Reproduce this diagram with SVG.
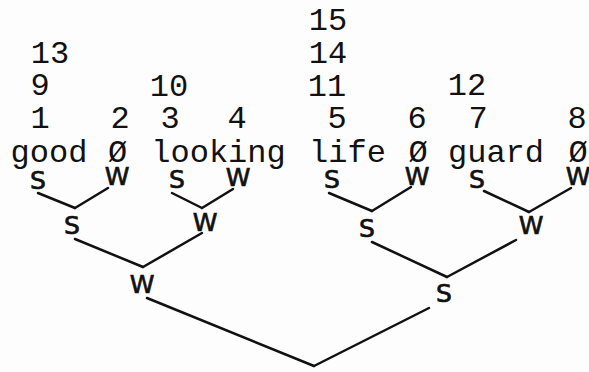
<svg xmlns="http://www.w3.org/2000/svg" width="589" height="372" viewBox="0 0 589 372">
<style>
.m{font-family:"Courier New","Liberation Mono",monospace;font-size:32px;fill:#111;text-anchor:middle}
.h{font-family:"DejaVu Sans","Noto Sans",sans-serif;font-size:25px;fill:#111;stroke:#111;stroke-width:0.7;text-anchor:middle}
.c line{stroke:#111;stroke-width:2.5;stroke-linecap:round}
</style>
<rect width="589" height="372" fill="#fdfdfd"/>
<g id="numbers">
<text class="m" x="50" y="63">13</text>
<text class="m" x="40" y="95">9</text>
<text class="m" x="40" y="128">1</text>
<text class="m" x="120" y="128">2</text>
<text class="m" x="169" y="96">10</text>
<text class="m" x="170" y="128">3</text>
<text class="m" x="237" y="128">4</text>
<text class="m" x="328" y="30">15</text>
<text class="m" x="328" y="63">14</text>
<text class="m" x="327" y="96">11</text>
<text class="m" x="337" y="128">5</text>
<text class="m" x="417" y="128">6</text>
<text class="m" x="467" y="95">12</text>
<text class="m" x="478" y="128">7</text>
<text class="m" x="577" y="128">8</text>
</g>
<g id="words">
<text class="m" x="49" y="162">good</text>
<text class="m" x="117.5" y="162">Ø</text>
<text class="m" x="218.5" y="162">looking</text>
<text class="m" x="347.5" y="162">life</text>
<text class="m" x="418" y="162">Ø</text>
<text class="m" x="496" y="162">guard</text>
<text class="m" x="578" y="162">Ø</text>
</g>
<g id="n1"><text class="h" x="38" y="189">S</text></g>
<g id="n2"><text class="h" x="117" y="185">W</text></g>
<g id="n3"><text class="h" x="177" y="188">S</text></g>
<g id="n4"><text class="h" x="238" y="186">W</text></g>
<g id="n5"><text class="h" x="332" y="188">S</text></g>
<g id="n6"><text class="h" x="417" y="185">W</text></g>
<g id="n7"><text class="h" x="477" y="188">S</text></g>
<g id="n8"><text class="h" x="578" y="185">W</text></g>
<g id="a"><text class="h" x="72" y="234">S</text></g>
<g id="b"><text class="h" x="205" y="231">W</text></g>
<g id="c"><text class="h" x="367" y="237">S</text></g>
<g id="d"><text class="h" x="531" y="234">W</text></g>
<g id="e"><text class="h" x="142" y="293">W</text></g>
<g id="f"><text class="h" x="444" y="302">S</text></g>
<g id="connectors" class="c">
<line x1="38" y1="193" x2="75" y2="208"/>
<line x1="108" y1="188" x2="75" y2="208"/>
<line x1="172" y1="193" x2="202" y2="208"/>
<line x1="233" y1="189" x2="202" y2="208"/>
<line x1="329" y1="193" x2="372" y2="211"/>
<line x1="411" y1="187" x2="372" y2="211"/>
<line x1="484" y1="191" x2="529" y2="212"/>
<line x1="571" y1="188" x2="529" y2="212"/>
<line x1="75" y1="239" x2="143" y2="267"/>
<line x1="202" y1="233" x2="143" y2="267"/>
<line x1="372" y1="242" x2="447" y2="277"/>
<line x1="516" y1="240" x2="447" y2="277"/>
<line x1="147" y1="298" x2="314" y2="366"/>
<line x1="429" y1="308" x2="314" y2="366"/>
</g>
</svg>
